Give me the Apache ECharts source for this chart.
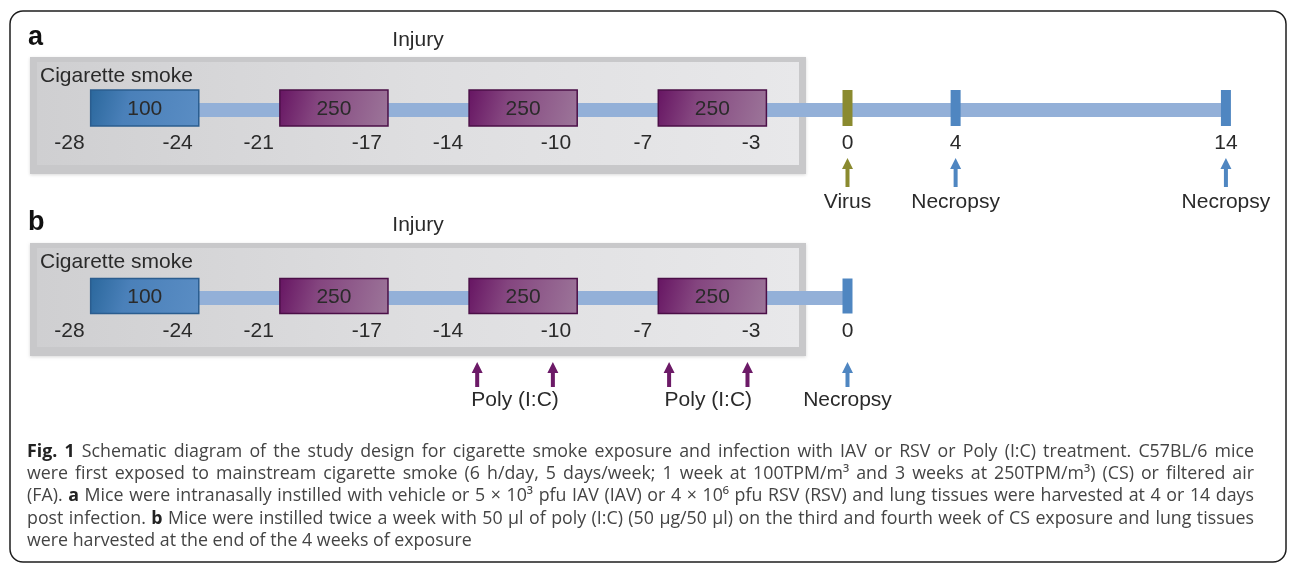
<!DOCTYPE html>
<html>
<head>
<meta charset="utf-8">
<script src="https://cdn.jsdelivr.net/npm/echarts@6/dist/echarts.min.js"></script>
<style>
  html, body { margin: 0; background: #fff; }
  #chart { width: 1290px; height: 565px; }
</style>
</head>
<body>
<div id="chart"></div>
<script>
// study timeline, days relative to infection (day 0)
const smokeStart = [-28, -21, -14, -7];
const smokeEnd = [-24, -17, -10, -3];
const smokeDose = [100, 250, 250, 250];   // TPM/m3
const eventDaysA = [0, 4, 14];
const eventNamesA = ['Virus', 'Necropsy', 'Necropsy'];
const eventDaysB = [0];
const eventNamesB = ['Necropsy'];
const polyDays = [-13.7, -10.9, -6.6, -3.7];
const polyName = 'Poly (I:C)';
const tickDaysA = [-28, -24, -21, -17, -14, -10, -7, -3, 0, 4, 14];
const tickDaysB = [-28, -24, -21, -17, -14, -10, -7, -3, 0];
const panelNames = ['a', 'b'];

const captionLines = [
  '*Fig.* *1* Schematic diagram of the study design for cigarette smoke exposure and infection with IAV or RSV or Poly (I:C) treatment. C57BL/6 mice',
  'were first exposed to mainstream cigarette smoke (6 h/day, 5 days/week; 1 week at 100TPM/m³ and 3 weeks at 250TPM/m³) (CS) or filtered air',
  '(FA). *a* Mice were intranasally instilled with vehicle or 5 × 10³ pfu IAV (IAV) or 4 × 10⁶ pfu RSV (RSV) and lung tissues were harvested at 4 or 14 days',
  'post infection. *b* Mice were instilled twice a week with 50 µl of poly (I:C) (50 µg/50 µl) on the third and fourth week of CS exposure and lung tissues',
  'were harvested at the end of the 4 weeks of exposure'
];

// layout
const X0 = 847.5, PX_PER_DAY = 27.03;
const FONT = '"Liberation Sans", Arial, sans-serif';
const rows = [
  { line: 110, box: 108, boxH: 36, label: 143, arrowTop: 158, arrowBottom: 187, text: 202 },
  { line: 298, box: 296, boxH: 35, label: 331, arrowTop: 362, arrowBottom: 387, text: 400 }
];
const OLIVE = '#8a8a2f', BLUE = '#4f86c1', PURPLE = '#6c1a67';

const chart = echarts.init(document.getElementById('chart'));

function xOf(api, d) { return api.coord([d, 0])[0]; }

// data rows for the series
const lineData = [[-26, Math.max(...eventDaysA), 0], [-26, Math.max(...eventDaysB), 1]];
const blockData = [];
[0, 1].forEach(p => smokeStart.forEach((s, i) => blockData.push([s, smokeEnd[i], smokeDose[i], p])));
const markerData = eventDaysA.map((d, i) => [d, 0, eventNamesA[i] === 'Virus' ? 0 : 1])
  .concat(eventDaysB.map(d => [d, 1, 1]));
const tickData = tickDaysA.map(d => [d, 0]).concat(tickDaysB.map(d => [d, 1]));
const arrowData = eventDaysA.map((d, i) => [d, 0, eventNamesA[i] === 'Virus' ? 0 : 1])
  .concat(polyDays.map(d => [d, 1, 2]))
  .concat(eventDaysB.map(d => [d, 1, 1]));
const arrowText = eventNamesA.map((n, i) => [eventDaysA[i], 0, n])
  .concat([[(polyDays[0] + polyDays[1]) / 2, 1, polyName], [(polyDays[2] + polyDays[3]) / 2, 1, polyName]])
  .concat(eventNamesB.map((n, i) => [eventDaysB[i], 1, n]));
const arrowColors = [OLIVE, BLUE, PURPLE];

function lineItem(params, api) {
  const r = rows[api.value(2)];
  const a = xOf(api, api.value(0)), b = xOf(api, api.value(1));
  return { type: 'rect', shape: { x: a, y: r.line - 7, width: b - a, height: 14 }, style: { fill: '#93b0d8' } };
}

function blockItem(params, api) {
  const r = rows[api.value(3)];
  const a = xOf(api, api.value(0)), b = xOf(api, api.value(1));
  const dose = api.value(2);
  const fill = dose > 100
    ? new echarts.graphic.LinearGradient(0, 0, 1, 0.8, [
        { offset: 0, color: '#661462' }, { offset: 0.35, color: '#84457f' }, { offset: 1, color: '#9c7599' }])
    : new echarts.graphic.LinearGradient(0, 0, 1, 0.8, [
        { offset: 0, color: '#2a679c' }, { offset: 0.35, color: '#4a80b9' }, { offset: 1, color: '#5a8dc4' }]);
  return {
    type: 'group',
    children: [
      { type: 'rect', shape: { x: a, y: r.box - r.boxH / 2, width: b - a, height: r.boxH },
        style: { fill: fill, stroke: dose > 100 ? '#4b0f47' : '#2b5d8f', lineWidth: 1.5 } },
      { type: 'text', style: { text: String(dose), x: (a + b) / 2, y: r.box + 1, align: 'center', verticalAlign: 'middle',
        textAlign: 'center', textVerticalAlign: 'middle', font: '21px ' + FONT, fill: '#2a2a2a' } }
    ]
  };
}

function markerItem(params, api) {
  const r = rows[api.value(1)];
  const x = xOf(api, api.value(0));
  return { type: 'rect', shape: { x: x - 5, y: r.box - r.boxH / 2, width: 10, height: r.boxH },
    style: { fill: api.value(2) === 0 ? OLIVE : BLUE } };
}

function tickItem(params, api) {
  const d = api.value(0);
  const r = rows[api.value(1)];
  const x = xOf(api, d);
  const right = d < 0;
  return { type: 'text', style: { text: String(d), x: right ? x - 6 : x, y: r.label,
    align: right ? 'right' : 'center', verticalAlign: 'middle',
    textAlign: right ? 'right' : 'center', textVerticalAlign: 'middle',
    font: '21px ' + FONT, fill: '#2a2a2a' } };
}

function arrowItem(params, api) {
  const r = rows[api.value(1)];
  const x = xOf(api, api.value(0));
  const t = r.arrowTop, b = r.arrowBottom, hh = 11;
  return { type: 'polygon', shape: { points: [
      [x, t], [x + 5.5, t + hh], [x + 2, t + hh], [x + 2, b], [x - 2, b], [x - 2, t + hh], [x - 5.5, t + hh]] },
    style: { fill: arrowColors[api.value(2)] } };
}

function arrowTextItem(params, api) {
  const item = arrowText[params.dataIndex];
  const r = rows[item[1]];
  return { type: 'text', style: { text: item[2], x: xOf(api, item[0]), y: r.text,
    align: 'center', verticalAlign: 'middle', textAlign: 'center', textVerticalAlign: 'middle',
    font: '21px ' + FONT, fill: '#2a2a2a' } };
}

// gray "Injury" frames and headings
const frames = [
  { top: 57, bottom: 174, head: 40, smoke: 76 },
  { top: 243, bottom: 356, head: 225, smoke: 262 }
];
const graphics = [
  { type: 'rect', shape: { x: 10, y: 11, width: 1276, height: 551, r: 13 },
    style: { fill: 'none', stroke: '#1e1e1e', lineWidth: 1.5 } }
];
frames.forEach((f, i) => {
  graphics.push(
    { type: 'rect', shape: { x: 30, y: f.top, width: 776, height: f.bottom - f.top },
      style: { fill: '#c8c8ca', shadowBlur: 3, shadowColor: 'rgba(0,0,0,0.15)', shadowOffsetY: 1 } },
    { type: 'rect', shape: { x: 37, y: f.top + 5, width: 762, height: f.bottom - f.top - 14 },
      style: { fill: new echarts.graphic.LinearGradient(0, 0, 1, 0, [
        { offset: 0, color: '#cfcfd1' }, { offset: 0.5, color: '#dedee0' }, { offset: 1, color: '#e8e8ea' }]) } },
    { type: 'text', x: 28, y: f.head - 2, style: { text: panelNames[i], font: 'bold 27px ' + FONT, fill: '#111',
      textVerticalAlign: 'middle' } },
    { type: 'text', x: 418, y: f.head, style: { text: 'Injury', font: '21px ' + FONT, fill: '#2a2a2a',
      textAlign: 'center', textVerticalAlign: 'middle' } },
    { type: 'text', x: 40, y: f.smoke, style: { text: 'Cigarette smoke', font: '21px ' + FONT, fill: '#2a2a2a',
      textVerticalAlign: 'middle' } }
  );
});

// justified caption, one text element per word
const CAP_FONT = '"Open Sans", sans-serif', CAP_SIZE = 17.8;
const capLeft = 27, capRight = 1254, capTop = 452, capStep = 22.2;
const ctx = document.createElement('canvas').getContext('2d');
captionLines.forEach((line, li) => {
  const words = line.split(' ').map(w => {
    const bold = w.startsWith('*') && w.endsWith('*') && w.length > 1;
    const text = bold ? w.slice(1, -1) : w;
    const font = (bold ? 'bold ' : '') + CAP_SIZE + 'px ' + CAP_FONT;
    ctx.font = font;
    return { text, font, bold, w: ctx.measureText(text).width };
  });
  ctx.font = CAP_SIZE + 'px ' + CAP_FONT;
  const last = li === captionLines.length - 1;
  const total = words.reduce((s, w) => s + w.w, 0);
  const gap = last ? ctx.measureText(' ').width : (capRight - capLeft - total) / (words.length - 1);
  let x = capLeft;
  words.forEach(w => {
    graphics.push({ type: 'text', x: x, y: capTop + li * capStep,
      style: { text: w.text, font: w.font, fill: w.bold ? '#222' : '#444', textVerticalAlign: 'middle' } });
    x += w.w + gap;
  });
});

const option = {
  animation: false,
  grid: { left: 0, right: 0, top: 0, bottom: 0 },
  xAxis: { type: 'value', min: -X0 / PX_PER_DAY, max: (1290 - X0) / PX_PER_DAY, show: false },
  yAxis: { type: 'value', min: 0, max: 1, show: false },
  graphic: { elements: graphics },
  series: [
    { type: 'custom', renderItem: lineItem, data: lineData, z: 3, silent: true },
    { type: 'custom', renderItem: blockItem, data: blockData, z: 4, silent: true },
    { type: 'custom', renderItem: markerItem, data: markerData, z: 4, silent: true },
    { type: 'custom', renderItem: tickItem, data: tickData, z: 5, silent: true },
    { type: 'custom', renderItem: arrowItem, data: arrowData, z: 5, silent: true },
    { type: 'custom', renderItem: arrowTextItem, data: arrowText.map(a => [a[0], a[1]]), z: 5, silent: true }
  ]
};
chart.setOption(option);
</script>
</body>
</html>
